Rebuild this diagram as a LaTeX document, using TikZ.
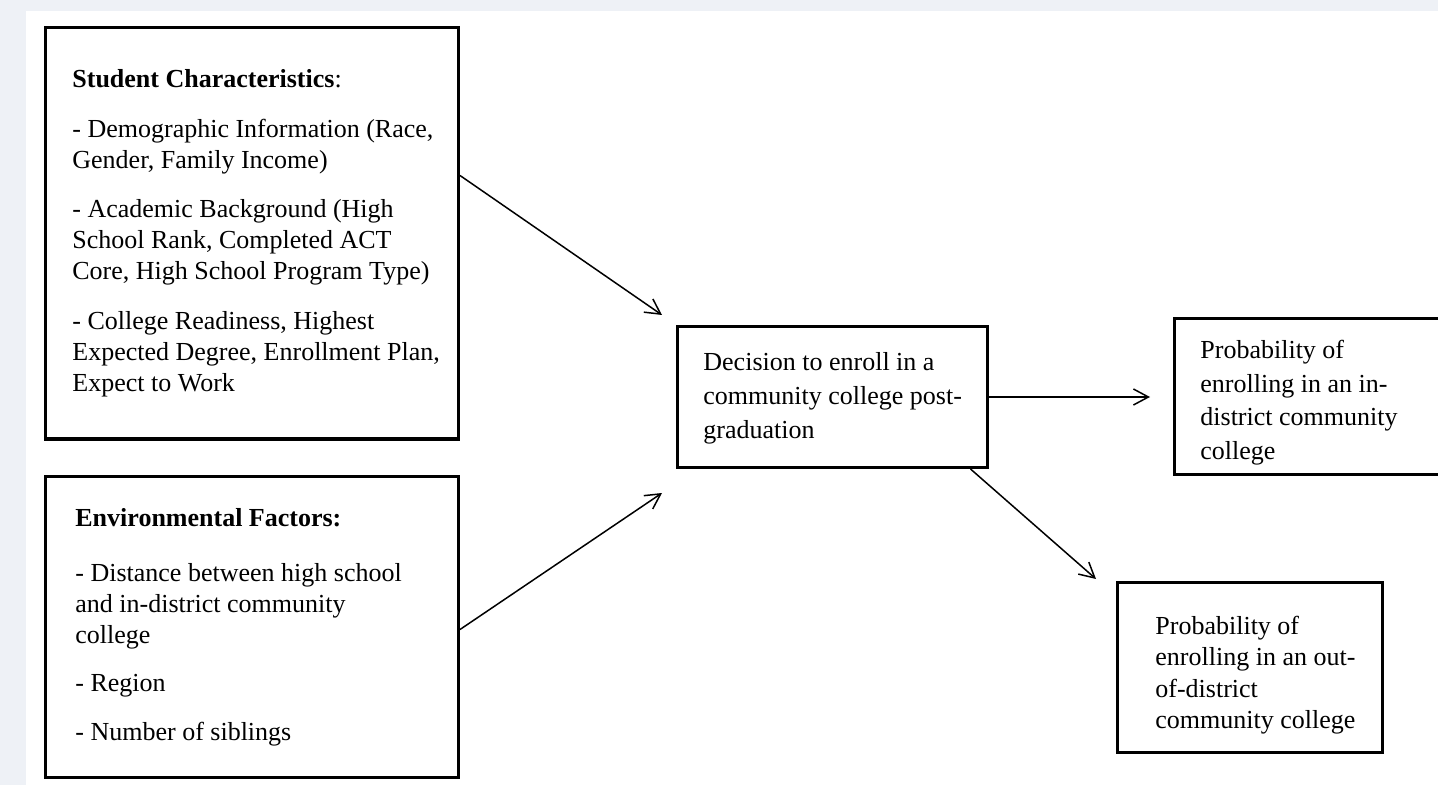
\documentclass[tikz,border=0pt]{standalone}
\usepackage{fontspec}
\setmainfont{Liberation Serif}
\usetikzlibrary{arrows.meta,positioning}
\definecolor{pagebg}{RGB}{238,241,246}

\begin{document}
\begin{tikzpicture}[x=0.5pt, y=-0.5pt, box/.style={rectangle, draw, line width=1.5pt, anchor=north west, inner sep=0pt}, txt/.style={anchor=north west, inner sep=0pt, align=left, font=\fontsize{13}{15.5}\selectfont}, rtxt/.style={txt, font=\fontsize{13}{16.8}\selectfont}, arr/.style={-{Straight Barb[length=7.5pt,width=8pt]}, line width=0.75pt}]

\useasboundingbox (0,0) rectangle (1438,785);
\fill[pagebg] (0,0) rectangle (1438,785);
\fill[white] (26,11) rectangle (1438,785);

% boxes
\node[box, minimum width=206.75pt, minimum height=205.5pt] (student) at (43.5,26.5) {};
\node[box, minimum width=206.75pt, minimum height=150.5pt] (environ) at (43.5,474.5) {};
\node[box, minimum width=154.75pt, minimum height=70.5pt] (decision) at (676,325) {};
\node[box, minimum width=134pt, minimum height=78pt] (probin) at (1173,317) {};
\node[box, minimum width=132.5pt, minimum height=85pt] (probout) at (1116,581) {};

% texts
\node[txt] (studenttxt) at (72,69) {\textbf{Student Characteristics}:\\[9.5pt]
- Demographic Information (Race,\\
Gender, Family Income)\\[9pt]
- Academic Background (High\\
School Rank, Completed ACT\\
Core, High School Program Type)\\[9.5pt]
- College Readiness, Highest\\
Expected Degree, Enrollment Plan,\\
Expect to Work};
\node[txt] (environtxt) at (75,508) {\textbf{Environmental Factors:}\\[12pt]
- Distance between high school\\
and in-district community\\
college\\[8.75pt]
- Region\\[8.75pt]
- Number of siblings};
\node[rtxt, font=\fontsize{13}{17}\selectfont] (decisiontxt) at (703,352) {Decision to enroll in a\\
community college post-\\
graduation};
\node[rtxt] (probintxt) at (1200,340) {Probability of\\
enrolling in an in-\\
district community\\
college};
\node[rtxt, font=\fontsize{13}{15.6}\selectfont] (probouttxt) at (1155,616) {Probability of\\
enrolling in an out-\\
of-district\\
community college};

% arrows
\draw[arr] ([shift={(0,-58)}]student.east) -- ([shift={(-14,-10)}]decision.north west);
\draw[arr] ([shift={(0,3)}]environ.east) -- ([shift={(-14,24)}]decision.south west);
\draw[arr] (decision.east) -- ([xshift=-11.5pt]probin.west |- decision.east);
\draw[arr] ([xshift=-9pt]decision.south east) -- ([shift={(-20,-2)}]probout.north west);

\end{tikzpicture}
\end{document}
